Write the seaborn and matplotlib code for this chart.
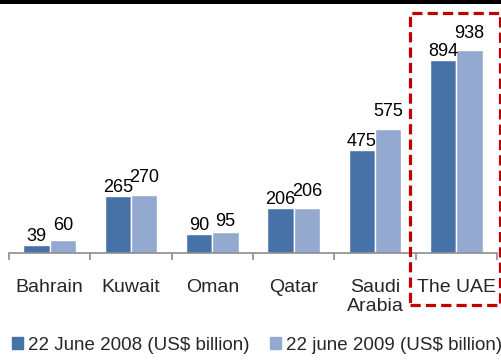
import matplotlib
matplotlib.use("Agg")
import matplotlib.pyplot as plt
from matplotlib.patches import Rectangle
import seaborn as sns
import pandas as pd

countries = ["Bahrain", "Kuwait", "Oman", "Qatar", "Saudi\nArabia", "The UAE"]
cap_2008 = [39, 265, 90, 206, 475, 894]
cap_2009 = [60, 270, 95, 206, 575, 938]
series_names = ["22 June 2008 (US$ billion)", "22 june 2009 (US$ billion)"]
colors = ["#4672A8", "#94A9CF"]

# extra lift (points) for the 2009 labels so they clear their neighbours
label_lift = [[0, 0, 0, 0, 0, 0], [4.5, 6, 2, 6, 6.5, 6]]

df = pd.DataFrame({
    "country": countries * 2,
    "value": cap_2008 + cap_2009,
    "series": [series_names[0]] * len(countries) + [series_names[1]] * len(countries),
})

sns.set_style("white")
plt.rcParams["font.family"] = ["Liberation Sans", "DejaVu Sans"]

fig = plt.figure(figsize=(5.01, 3.6), dpi=100)
ax = fig.add_axes([9 / 501, 1 - 253 / 360, 488 / 501, 233 / 360])

sns.barplot(data=df, x="country", y="value", hue="series", palette=colors,
            width=0.65, gap=0, saturation=1, ax=ax, legend=False)

# value labels sitting on top of each bar
for cont, lifts in zip(ax.containers, label_lift):
    for bar, lift in zip(cont.patches, lifts):
        h = bar.get_height()
        ax.annotate(f"{h:.0f}", (bar.get_x() + bar.get_width() / 2, h),
                    xytext=(0, lift), textcoords="offset points",
                    ha="center", va="bottom", fontsize=13, color="black")

ax.set_xlim(-0.5, len(countries) - 0.5)
ax.set_ylim(0, 1077)
ax.set_xlabel("")
ax.set_ylabel("")
ax.set_yticks([])
for s in ["top", "left", "right"]:
    ax.spines[s].set_visible(False)
ax.spines["bottom"].set_color("#8C8C8C")
ax.spines["bottom"].set_linewidth(1.2)

ax.set_xticks(range(len(countries)))
ax.set_xticklabels(countries, fontsize=14, linespacing=1.15, va="top")
ax.tick_params(axis="x", which="major", length=0, pad=19)
ax.set_xticks([i - 0.5 for i in range(len(countries) + 1)], minor=True)
ax.tick_params(axis="x", which="minor", length=5, width=1.2, color="#8C8C8C",
               direction="out", bottom=True)

handles = [Rectangle((0, 0), 1, 1, color=c) for c in colors]
fig.legend(handles, series_names, loc="center", bbox_to_anchor=(257 / 501, 1 - 345 / 360),
           ncol=2, frameon=False, fontsize=13.5, handlelength=0.6, handleheight=0.6,
           handletextpad=0.25, columnspacing=1.1, borderaxespad=0, borderpad=0)

# heavy rule along the top edge
fig.add_artist(Rectangle((0, 1 - 4 / 360), 1, 4 / 360, transform=fig.transFigure,
                         color="black", lw=0))
# dashed highlight box around the UAE group
fig.add_artist(Rectangle((409.5 / 501, 1 - 305 / 360), 90 / 501, 292 / 360,
                         transform=fig.transFigure, fill=False, edgecolor="#C00000",
                         lw=2.3, linestyle=(0, (3.2, 1.6))))

fig.savefig("out.png", dpi=100)
